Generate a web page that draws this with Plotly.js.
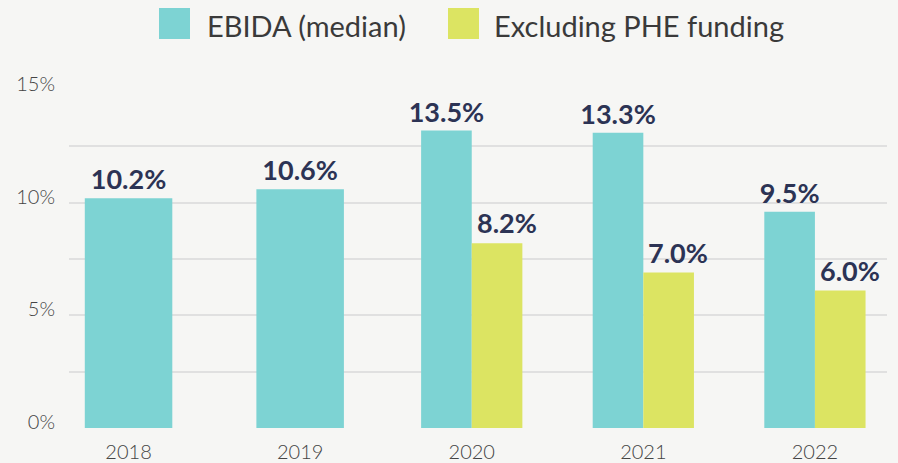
<!DOCTYPE html>
<html>
<head>
<meta charset="utf-8">
<script src="https://cdn.plot.ly/plotly-3.0.1.min.js"></script>
<style>
  html, body { margin: 0; padding: 0; background: #f6f6f4; }
  #chart { width: 898px; height: 463px; }
</style>
</head>
<body>
<div id="chart"></div>
<script>
// ---- data ----
const years = ['2018', '2019', '2020', '2021', '2022'];
const ebidaValues = [10.2, 10.6, 13.2, 13.1, 9.6];
const ebidaLabels = ['10.2%', '10.6%', '13.5%', '13.3%', '9.5%'];
const exclValues = [null, null, 8.2, 6.9, 6.1];
const exclLabels = ['', '', '8.2%', '7.0%', '6.0%'];
const seriesNames = ['EBIDA (median)', 'Excluding PHE funding'];
const yTickVals = [0, 2.5, 5, 7.5, 10, 12.5, 15];
const yTickText = ['0%', '', '5%', '', '10%', '', '15%'];

// ---- styles ----
const TEAL = '#7dd3d3';
const LIME = '#dce462';
const NAVY = '#2c3354';
const BG = '#f6f6f4';
const SINGLE_W = 0.51, PAIR_W = 0.295;

const hasPair = exclValues.map(v => v !== null);

const labelFont = { family: 'Lato, sans-serif', size: 27, color: NAVY, weight: 700 };

const traces = [
  {
    type: 'bar', name: seriesNames[0], x: years, y: ebidaValues,
    width: hasPair.map(p => p ? PAIR_W : SINGLE_W),
    offset: hasPair.map(p => p ? -PAIR_W : -SINGLE_W / 2),
    marker: { color: TEAL },
    text: ebidaLabels, textposition: 'outside', cliponaxis: false,
    constraintext: 'none', textfont: labelFont, hoverinfo: 'skip', showlegend: false
  },
  {
    type: 'bar', name: seriesNames[1], x: years, y: exclValues,
    width: PAIR_W, offset: 0,
    marker: { color: LIME }, hoverinfo: 'skip', showlegend: false
  }
];

// labels for the second series, nudged right as in the original
const annotations = [];
years.forEach((yr, i) => {
  if (exclValues[i] === null) return;
  annotations.push({
    x: i, y: exclValues[i], xref: 'x', yref: 'y',
    text: exclLabels[i], showarrow: false,
    xanchor: 'center', yanchor: 'bottom',
    xshift: 35, yshift: 2,
    font: labelFont
  });
});

// custom legend (large swatches)
const L = 69, R = 887, T = 90, B = 428;
const px = v => (v - L) / (R - L);
const py = v => (B - v) / (B - T);
const legendItems = [
  { color: TEAL, x0: 159, textX: 205, text: seriesNames[0] },
  { color: LIME, x0: 448, textX: 492, text: seriesNames[1] }
];
const shapes = [];
legendItems.forEach(it => {
  shapes.push({
    type: 'rect', xref: 'paper', yref: 'paper',
    x0: px(it.x0), x1: px(it.x0 + 31), y0: py(39), y1: py(8),
    fillcolor: it.color, line: { width: 0 }
  });
  annotations.push({
    xref: 'paper', yref: 'paper', x: px(it.textX), y: py(25),
    xanchor: 'left', yanchor: 'middle', showarrow: false,
    text: it.text,
    font: { family: 'Lato, sans-serif', size: 29, color: '#3a3a3a', weight: 400 }
  });
});

const layout = {
  width: 898, height: 463,
  paper_bgcolor: BG, plot_bgcolor: BG,
  margin: { l: L, r: 898 - R, t: T, b: 463 - B, pad: 0 },
  barmode: 'overlay',
  showlegend: false,
  font: { family: 'Lato, sans-serif', color: '#444444' },
  xaxis: {
    type: 'category', range: [-0.347, 4.42],
    showgrid: false, zeroline: false, showline: false, ticks: '',
    tickfont: { family: 'Lato, sans-serif', size: 20, color: '#444444', weight: 300 },
    ticklabelstandoff: 10
  },
  yaxis: {
    range: [0, 15], tickvals: yTickVals, ticktext: yTickText,
    showgrid: true, gridcolor: '#e0e0e0', gridwidth: 2,
    zeroline: false, showline: false, ticks: '',
    tickfont: { family: 'Lato, sans-serif', size: 20, color: '#444444', weight: 300 },
    ticklabelstandoff: 13, ticklabelshift: -6
  },
  shapes: shapes,
  annotations: annotations
};

Plotly.newPlot('chart', traces, layout, { staticPlot: true, displayModeBar: false });
</script>
</body>
</html>
